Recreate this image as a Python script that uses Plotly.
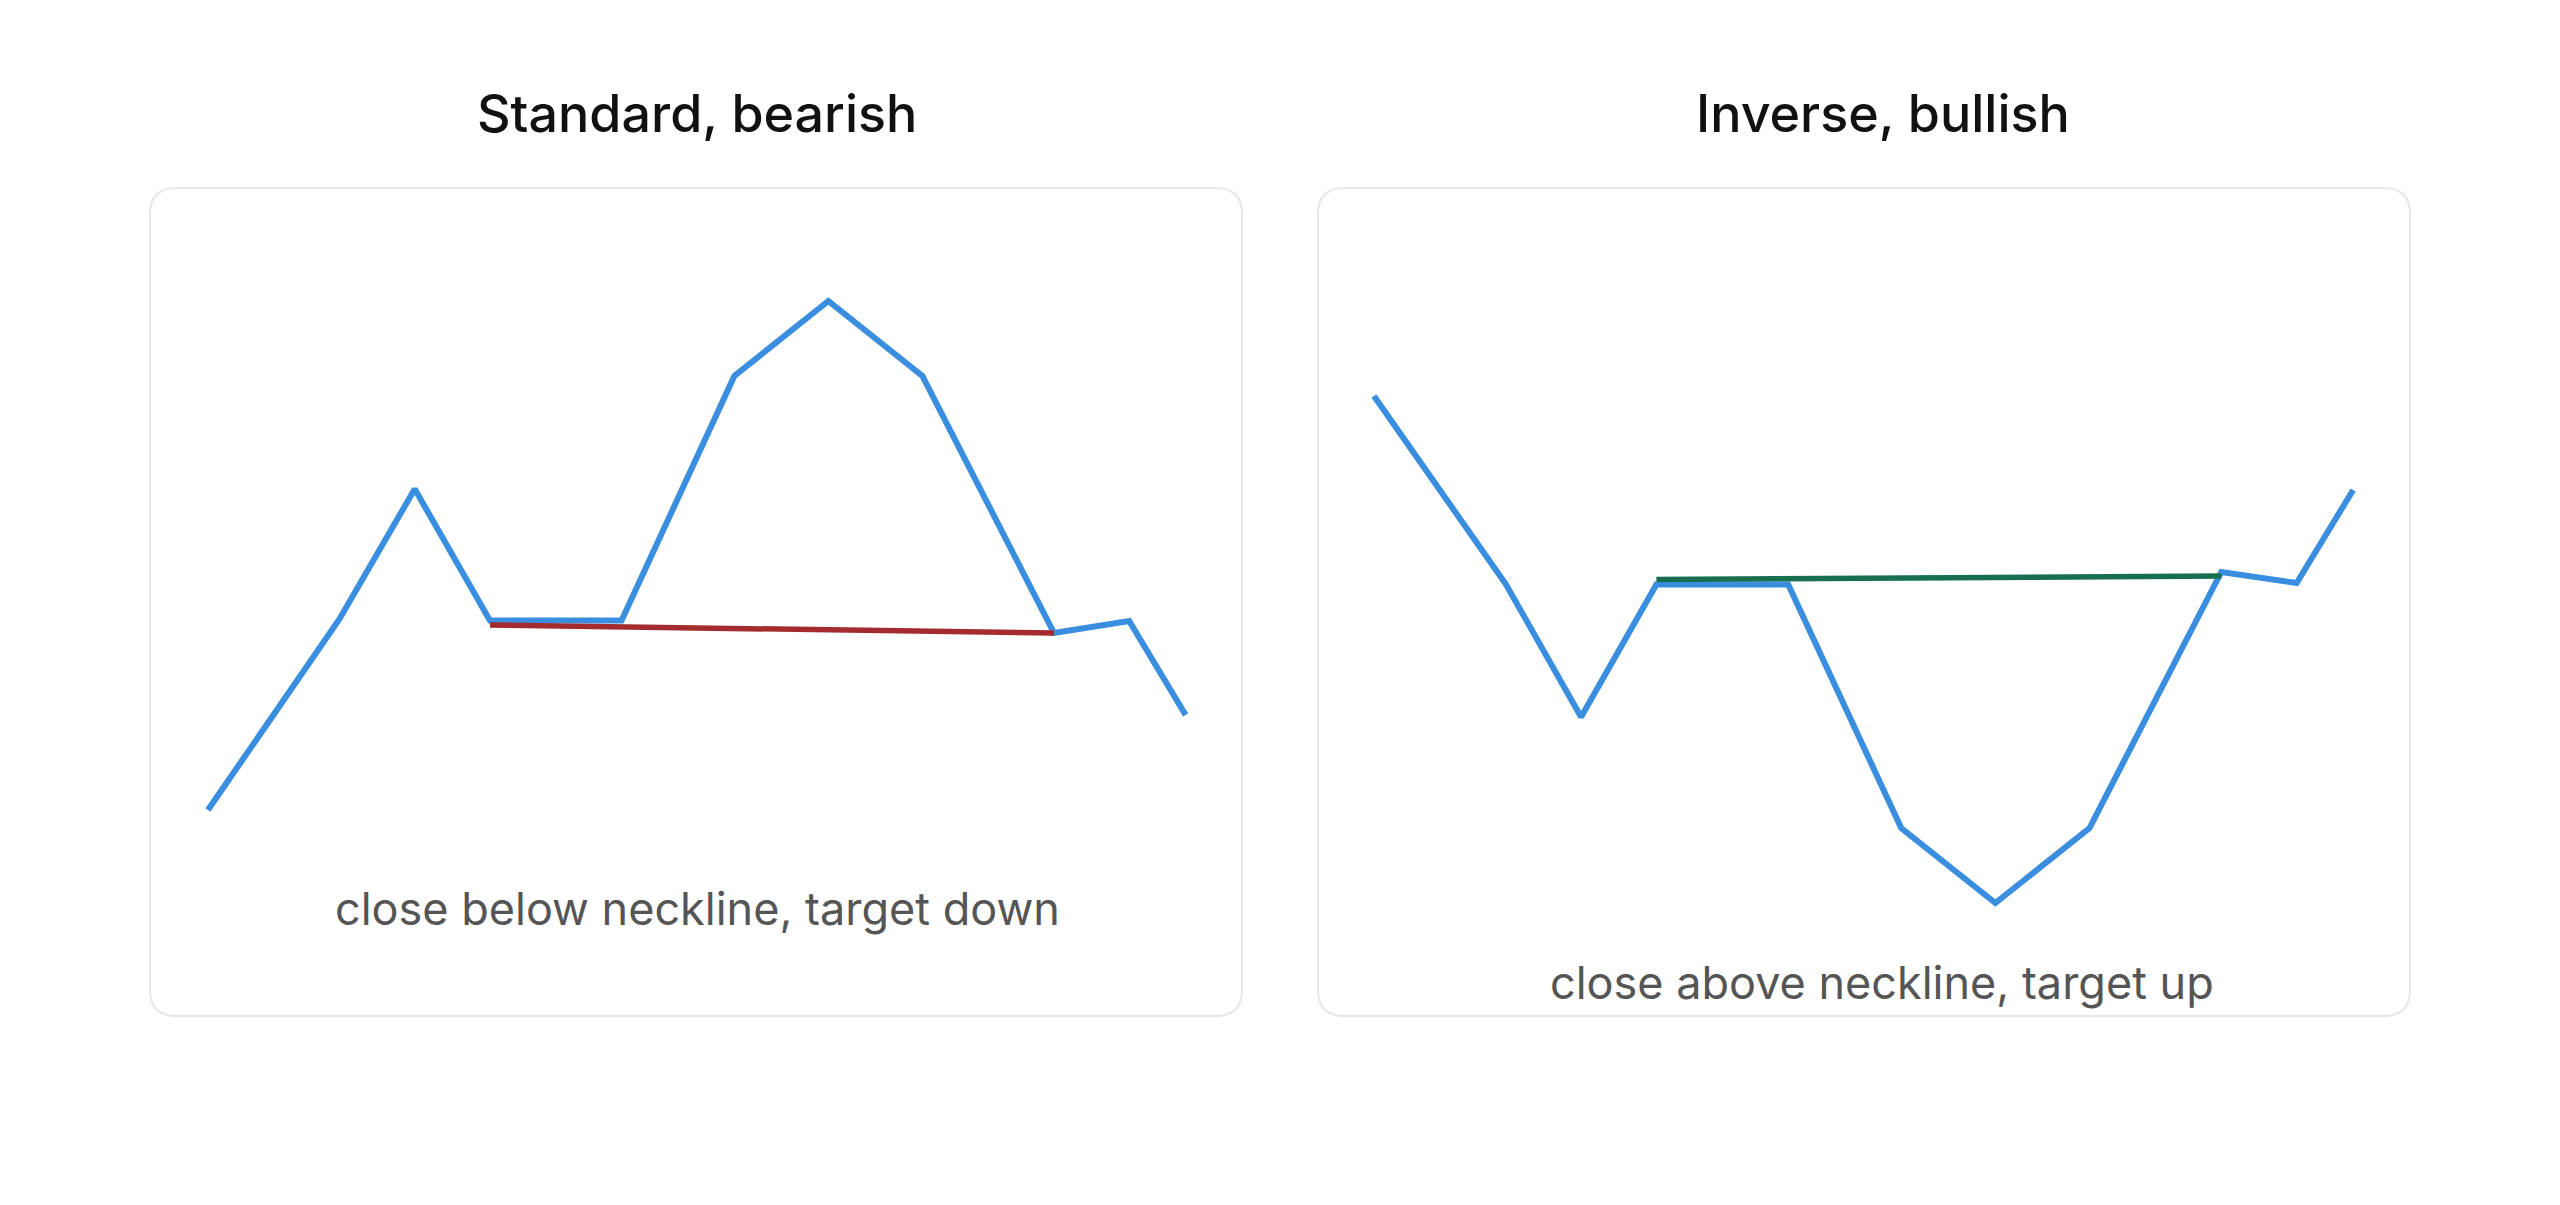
# 头肩形态示意图：左边是标准形态（看跌），右边是倒置形态（看涨）

import plotly.graph_objects as go

# 图表数据
x_idx = [0, 7, 11, 15, 22, 28, 33, 38, 45, 49, 52]
bear_price = [19.0, 38.1, 51.1, 37.95, 37.95, 62.4, 69.9, 62.4, 36.7, 37.9, 28.5]
bull_price = [60.4, 41.6, 28.3, 41.55, 41.55, 17.2, 9.7, 17.2, 42.8, 41.7, 51.0]
neck_x = [15, 45]
bear_neck = [37.5, 36.7]
bull_neck = [42.05, 42.4]
titles = ["Standard, bearish", "Inverse, bullish"]
notes = ["close below neckline, target down", "close above neckline, target up"]

# 页面body有8px的默认边距，图的原点在(8, 8)
OFF = 8
W, H = 2560 - OFF, 1205 - OFF
LINE_BLUE = "#3a8ee0"
NECK_COLORS = ["#a52c2e", "#176f50"]
FONT = "Inter, 'Noto Sans', sans-serif"


def px(v):
    return (v - OFF) / W


def py(v):
    return 1 - (v - OFF) / H


def rounded_box(x0, y0, x1, y1, r):
    """用页面像素坐标生成圆角矩形路径（paper坐标）"""
    rx, ry = r / W, r / H
    X0, X1 = px(x0), px(x1)
    Y0, Y1 = py(y1), py(y0)  # Y0是底边，Y1是顶边
    return (
        f"M {X0 + rx},{Y1} L {X1 - rx},{Y1} Q {X1},{Y1} {X1},{Y1 - ry} "
        f"L {X1},{Y0 + ry} Q {X1},{Y0} {X1 - rx},{Y0} "
        f"L {X0 + rx},{Y0} Q {X0},{Y0} {X0},{Y0 + ry} "
        f"L {X0},{Y1 - ry} Q {X0},{Y1} {X0 + rx},{Y1} Z"
    )


# 面板位置（页面像素）
boxes = [(150, 188, 1242, 1016), (1318, 188, 2410, 1016)]
title_x = [697, 1883]
note_pos = [(697, 908), (1882, 982)]

fig = go.Figure()

for i, (price, neck) in enumerate([(bear_price, bear_neck), (bull_price, bull_neck)]):
    xa = "x" if i == 0 else "x2"
    ya = "y" if i == 0 else "y2"
    fig.add_trace(
        go.Scatter(
            x=x_idx, y=price, mode="lines", xaxis=xa, yaxis=ya,
            line=dict(color=LINE_BLUE, width=6), hoverinfo="skip",
        )
    )
    fig.add_trace(
        go.Scatter(
            x=neck_x, y=neck, mode="lines", xaxis=xa, yaxis=ya,
            line=dict(color=NECK_COLORS[i], width=5.5), hoverinfo="skip",
        )
    )

shapes = []
annotations = []
for i, (x0, y0, x1, y1) in enumerate(boxes):
    shapes.append(
        dict(
            type="path", xref="paper", yref="paper",
            path=rounded_box(x0, y0, x1, y1, 26),
            line=dict(color="#e6e6e6", width=2), layer="below",
        )
    )
    annotations.append(
        dict(
            text=titles[i], xref="paper", yref="paper",
            x=px(title_x[i]), y=py(113), xanchor="center", yanchor="middle",
            showarrow=False, font=dict(family=FONT, size=52, color="#111111", weight=500),
        )
    )
    annotations.append(
        dict(
            text=notes[i], xref="paper", yref="paper",
            x=px(note_pos[i][0]), y=py(note_pos[i][1]), xanchor="center", yanchor="middle",
            showarrow=False, font=dict(family=FONT, size=45, color="#555555"),
        )
    )

axis_common = dict(visible=False, fixedrange=True)
fig.update_layout(
    width=W,
    height=H,
    margin=dict(l=0, r=0, t=0, b=0),
    paper_bgcolor="white",
    plot_bgcolor="rgba(0,0,0,0)",
    showlegend=False,
    hovermode=False,
    xaxis=dict(domain=[px(150), px(1242)], range=[-3.08, 55.0], **axis_common),
    yaxis=dict(domain=[py(1016), py(188)], range=[-1.6, 81.2], **axis_common),
    xaxis2=dict(domain=[px(1318), px(2410)], range=[-2.97, 55.02], **axis_common),
    yaxis2=dict(domain=[py(1016), py(188)], range=[-1.6, 81.2], **axis_common),
    shapes=shapes,
    annotations=annotations,
)

fig.write_html("out.html")
